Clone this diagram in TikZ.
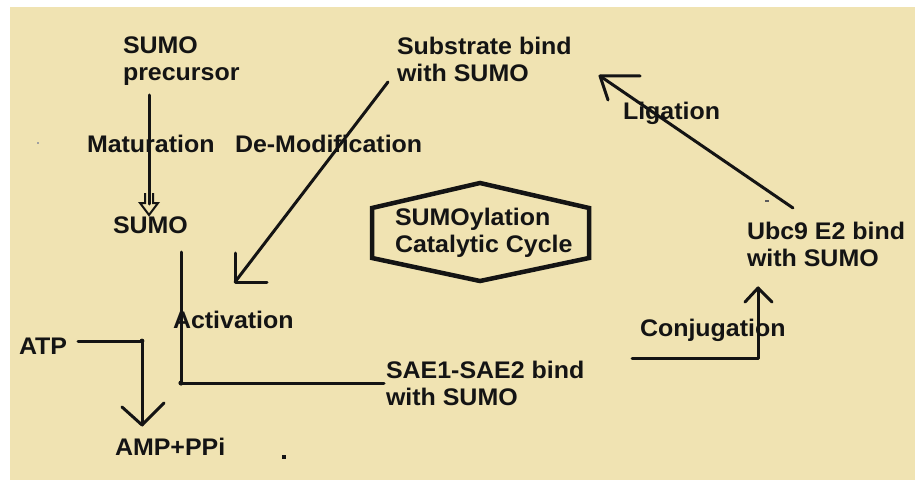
\documentclass[tikz,border=0pt]{standalone}
\usepackage{fontspec}
\setmainfont{Liberation Sans}[FakeStretch=1.04]
\definecolor{bg}{RGB}{240,227,178}
\definecolor{ink}{RGB}{20,20,20}
\newcommand{\twoline}[2]{\begin{tabular}[t]{@{}l@{}}#1\\#2\end{tabular}}
\tikzset{
  lbl/.style={anchor=base west, inner sep=0pt, outer sep=0pt,
              font=\bfseries\fontsize{24}{27}\selectfont, text=ink},
  conn/.style={draw=ink, line width=3pt, line cap=round, line join=round},
  hexa/.style={draw=ink, line width=4.5pt, line join=miter},
  hollowhead/.style={draw=ink, line width=2pt, line join=miter}
}
\begin{document}
\begin{tikzpicture}[x=1pt,y=-1pt]
\useasboundingbox (0,0) rectangle (915,484);
\fill[white] (0,0) rectangle (915,484);
\fill[bg] (10,7) rectangle (915,480);

% labels
\node[lbl] (prec)  at (123,54)  {\twoline{SUMO}{precursor}};
\node[lbl] (mat)   at (87,153)  {Maturation};
\node[lbl] (demod) at (235,153) {De-Modification};
\node[lbl] (sumo)  at (113,233) {SUMO};
\node[lbl] (subs)  at (397,55)  {\twoline{Substrate bind}{with SUMO}};
\node[lbl] (lig)   at (623,120) {Ligation};
\node[lbl] (cyc)   at (395,225) {\twoline{SUMOylation}{Catalytic Cycle}};
\node[lbl] (ubc)   at (747,239) {\twoline{Ubc9 E2 bind}{with SUMO}};
\node[lbl] (act)   at (173,328) {Activation};
\node[lbl] (atp)   at (19,354)  {ATP};
\node[lbl] (amp)   at (115,455) {AMP+PPi};
\node[lbl] (sae)   at (386,378) {\twoline{SAE1-SAE2 bind}{with SUMO}};
\node[lbl] (conj)  at (640,336) {Conjugation};

% hexagon round the cycle label
\draw[hexa] (372,208) -- (480,183) -- (589,208) -- (589,258) -- (480,281) -- (372,258) -- cycle;

% maturation
\coordinate (m1) at (149,95);
\coordinate (m2) at (149,204);
\draw[conn] (m1) -- (m2);
\draw[hollowhead] (145,193) -- (145,203) -- (140,203) -- (149,215) -- (158,203) -- (153,203) -- (153,193);

% de-modification
\coordinate (d1) at (388,82);
\coordinate (d2) at (235,282);
\draw[conn] (d1) -- (d2);
\draw[conn] (d2) ++(0,-29) -- (d2) -- ++(32,0);

% activation
\coordinate (a1) at (181,252);
\coordinate (ac) at (181,383);
\coordinate (s1) at (384,383);
\draw[conn] (s1) -- (ac) -- (a1);
\fill[ink] (ac) circle (2.6);

% ATP
\coordinate (t1) at (78,341);
\coordinate (tc) at (142,341);
\coordinate (t2) at (142,425);
\draw[conn] (t1) -- (tc) -- (t2);
\fill[ink] (tc) circle (2.4);
\draw[conn] (t2) ++(-20,-18) -- (t2) -- ++(22,-22);

% conjugation
\coordinate (c1) at (632,358);
\coordinate (cc) at (758,358);
\coordinate (c2) at (758,288);
\draw[conn] (c1) -- (cc) -- (c2);
\draw[conn] (c2) ++(-13,14) -- (c2) -- ++(14,14);

% ligation
\coordinate (l1) at (793,208);
\coordinate (l2) at (600,76);
\draw[conn] (l1) -- (l2);
\draw[conn] (l2) ++(40,0) -- (l2) -- ++(8,24);

% specks
\fill[ink] (282,455) rectangle (286,459);
\fill[ink!70] (765,200) rectangle (769,202);
\fill[ink!40] (37,142) rectangle (39,144);
\end{tikzpicture}
\end{document}
